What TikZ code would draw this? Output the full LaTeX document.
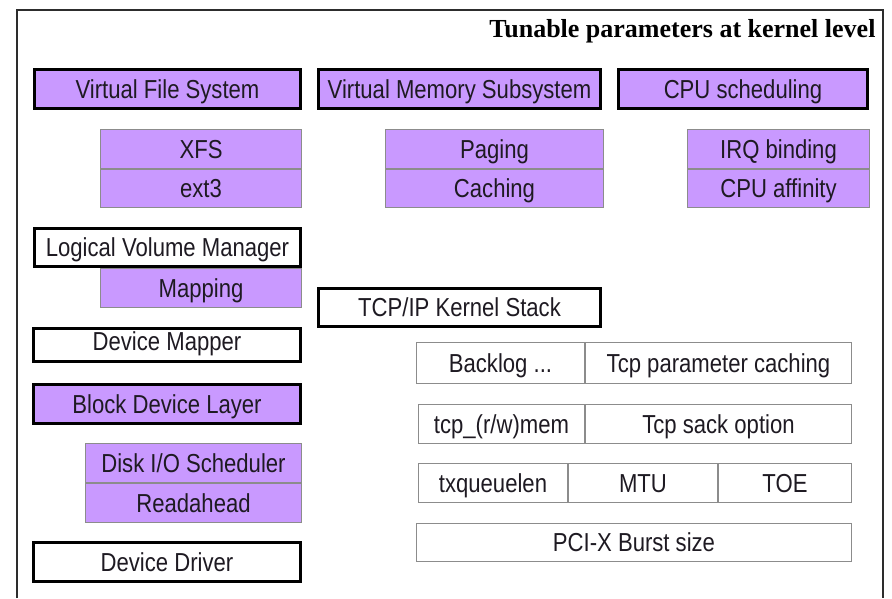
\documentclass[tikz,border=0pt]{standalone}
\usepackage{fontspec}
\newfontfamily\labelfont[FakeStretch=0.85]{Liberation Sans}
\newfontfamily\titlefont{Liberation Serif}
\definecolor{layerfill}{RGB}{201,153,255}
\definecolor{inktext}{RGB}{30,26,34}
\definecolor{thinline}{RGB}{140,140,140}
\definecolor{framecol}{RGB}{45,45,45}
\tikzset{
  box/.style={inner sep=0pt, outer sep=0pt, text=inktext,
    font=\labelfont\fontsize{26}{30}\selectfont,
    text height=18.6pt, text depth=0pt, align=center},
  layer/.style={box, draw=black, line width=3pt, fill=layerfill},
  plainlayer/.style={box, draw=black, line width=3pt, fill=white},
  sub/.style={box, draw=thinline, line width=1pt, fill=layerfill},
  param/.style={box, draw=thinline, line width=1.3pt, fill=white},
}
\begin{document}
\begin{tikzpicture}[x=1pt, y=-1pt]
  % page area
  \fill[white] (0,0) rectangle (892,598);
  \useasboundingbox (0,0) rectangle (892,598);

  % outer frame (open at the bottom)
  \draw[framecol, line width=2.2pt] (17,598) -- (17,10) -- (883,10) -- (883,598);

  \node[anchor=base east, text=black, font=\titlefont\bfseries\fontsize{26}{30}\selectfont]
    (title) at (879,37) {Tunable parameters at kernel level};

  % top-level subsystems
  \node[layer, minimum width=266pt, minimum height=39pt] (vfs) at (167.5,89) {Virtual File System};
  \node[layer, minimum width=282pt, minimum height=39pt] (vms) at (459.5,89) {Virtual Memory Subsystem};
  \node[layer, minimum width=249pt, minimum height=39pt] (cpu) at (743,89) {CPU scheduling};

  % their tunables
  \node[sub, minimum width=201pt, minimum height=39pt] (xfs)  at (201,149)   {XFS};
  \node[sub, minimum width=201pt, minimum height=38pt] (ext3) at (201,188.5) {ext3};
  \node[sub, minimum width=218pt, minimum height=39pt] (paging)  at (494.5,149)   {Paging};
  \node[sub, minimum width=218pt, minimum height=38pt] (caching) at (494.5,188.5) {Caching};
  \node[sub, minimum width=182pt, minimum height=39pt] (irq)      at (778.5,149)   {IRQ binding};
  \node[sub, minimum width=182pt, minimum height=38pt] (affinity) at (778.5,188.5) {CPU affinity};

  % storage stack
  \node[sub, minimum width=201pt, minimum height=39pt] (mapping) at (201,288) {Mapping};
  \node[plainlayer, minimum width=266pt, minimum height=38pt] (lvm) at (167.5,247.5) {Logical Volume Manager};
  \node[plainlayer, minimum width=267pt, minimum height=33pt, text depth=8pt] (dm) at (167,345) {Device Mapper};
  \node[layer, minimum width=267pt, minimum height=39pt] (bdl) at (167,404) {Block Device Layer};
  \node[sub, minimum width=216pt, minimum height=39pt] (sched) at (193.5,463) {Disk I/O Scheduler};
  \node[sub, minimum width=216pt, minimum height=39pt] (ra)    at (193.5,503) {Readahead};
  \node[plainlayer, minimum width=267pt, minimum height=39pt] (drv) at (167,562) {Device Driver};

  % network stack
  \node[plainlayer, minimum width=282pt, minimum height=38pt] (tcpip) at (459.5,307.5) {TCP/IP Kernel Stack};

  \node[param, minimum width=168pt, minimum height=41pt] (backlog) at (500.5,363) {Backlog ...};
  \node[param, minimum width=266pt, minimum height=41pt] (tcpcache) at (718.5,363) {Tcp parameter caching};
  \node[param, minimum width=166pt, minimum height=39pt] (tcpmem) at (501.5,424) {tcp\_(r/w)mem};
  \node[param, minimum width=266pt, minimum height=39pt] (sack) at (718.5,424) {Tcp sack option};
  \node[param, minimum width=149pt, minimum height=39pt] (txq) at (493,483) {txqueuelen};
  \node[param, minimum width=149pt, minimum height=39pt] (mtu) at (643,483) {MTU};
  \node[param, minimum width=133pt, minimum height=39pt] (toe) at (785,483) {TOE};
  \node[param, minimum width=435pt, minimum height=38pt] (pcix) at (634,542.5) {PCI-X Burst size};
\end{tikzpicture}
\end{document}
